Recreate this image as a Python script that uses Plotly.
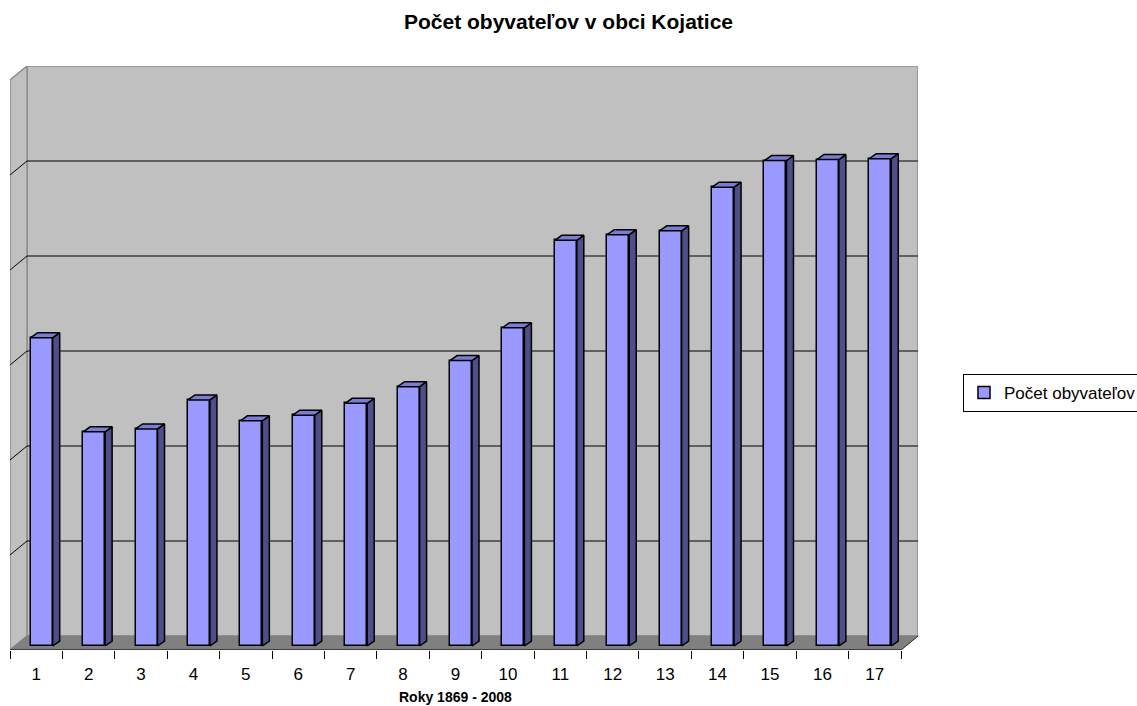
import plotly.graph_objects as go

# ---- data ----
categories = list(range(1, 18))
tick_labels = [str(c) for c in categories]
population = [649, 451, 457, 518, 474, 486, 511, 546, 601, 670,
              854, 866, 874, 966, 1022, 1024, 1026]
series_name = "Počet obyvateľov"
title_text = "Počet obyvateľov v obci Kojatice"
x_title = "Roky 1869 - 2008"
y_max = 1200
y_step = 200

# ---- geometry (pixel layout of the Excel-like 3D chart) ----
W, H = 1137, 706
PL, PR, PT, PB = 10, 918, 66, 650      # plot area in px
DEPTH_X_PX, DEPTH_Y_PX = 17, 14         # wall depth offset in px
n = len(categories)
kx = (PR - PL - DEPTH_X_PX) / n         # px per category unit
ky = (PB - PT - DEPTH_Y_PX) / y_max     # px per value unit
DXB = DEPTH_X_PX / kx
DYB = DEPTH_Y_PX / ky
x0, x1 = 0.5, n + 0.5

BAR_W = 22 / kx
BAR_OFF = -5.5 / kx
BAR_BASE = -10 / ky
SIDE_DX = 7 / kx
SIDE_DY = 5 / ky

FONT = "Liberation Sans, Arial, sans-serif"
FRONT = "#9999FF"
TOP = "#7C7CD4"
SIDE = "#4E4E88"

fig = go.Figure()

# side faces and top faces built from the data
sx, sy, tx, ty = [], [], [], []
for c, v in zip(categories, population):
    xl = c + BAR_OFF
    xr = xl + BAR_W
    top = BAR_BASE + v
    sx += [xr, xr + SIDE_DX, xr + SIDE_DX, xr, xr, None]
    sy += [BAR_BASE, BAR_BASE + SIDE_DY, top + SIDE_DY, top, BAR_BASE, None]
    tx += [xl, xr, xr + SIDE_DX, xl + SIDE_DX, xl, None]
    ty += [top, top, top + SIDE_DY, top + SIDE_DY, top, None]

fig.add_trace(go.Bar(
    x=categories, y=population, base=BAR_BASE, width=BAR_W, offset=BAR_OFF,
    name=series_name, marker=dict(color=FRONT, line=dict(color="black", width=1.5)),
    hoverinfo="skip", showlegend=True))
fig.add_trace(go.Scatter(x=sx, y=sy, mode="lines", fill="toself", fillcolor=SIDE,
                         line=dict(color="black", width=1.5), hoverinfo="skip",
                         showlegend=False))
fig.add_trace(go.Scatter(x=tx, y=ty, mode="lines", fill="toself", fillcolor=TOP,
                         line=dict(color="black", width=1.5), hoverinfo="skip",
                         showlegend=False))

shapes = []
# back wall
shapes.append(dict(type="rect", xref="x", yref="y", x0=x0 + DXB, x1=x1 + DXB, y0=0, y1=y_max,
                   fillcolor="#C0C0C0", line=dict(color="#8C8C8C", width=1.5), layer="below"))
# side wall
shapes.append(dict(type="path", xref="x", yref="y",
                   path=f"M {x0},{-DYB} L {x0 + DXB},0 L {x0 + DXB},{y_max} L {x0},{y_max - DYB} Z",
                   fillcolor="#C0C0C0", line=dict(color="#8C8C8C", width=1.5), layer="below"))
# floor
shapes.append(dict(type="path", xref="x", yref="y",
                   path=f"M {x0},{-DYB} L {x0 + DXB},0 L {x1 + DXB},0 L {x1},{-DYB} Z",
                   fillcolor="#808080", line=dict(color="#808080", width=1), layer="below"))
# gridlines
for g in range(y_step, y_max, y_step):
    shapes.append(dict(type="line", xref="x", yref="y", x0=x0 + DXB, x1=x1 + DXB, y0=g, y1=g,
                       line=dict(color="black", width=1), layer="below"))
    shapes.append(dict(type="line", xref="x", yref="y", x0=x0, x1=x0 + DXB, y0=g - DYB, y1=g,
                       line=dict(color="black", width=1), layer="below"))
# category axis line and floor edge
shapes.append(dict(type="line", xref="x", yref="y", x0=x0, x1=x1, y0=-DYB, y1=-DYB,
                   line=dict(color="black", width=1.2), layer="above"))
shapes.append(dict(type="line", xref="x", yref="y", x0=x1, x1=x1 + DXB, y0=-DYB, y1=0,
                   line=dict(color="#333333", width=1), layer="below"))

fig.update_layout(
    width=W, height=H, autosize=False,
    margin=dict(l=PL, r=W - PR, t=PT, b=H - PB, pad=0, autoexpand=False),
    paper_bgcolor="white", plot_bgcolor="white",
    shapes=shapes,
    title=dict(text=f"<b>{title_text}</b>", x=0.5, xref="container", xanchor="center",
               y=1 - 22 / H, yanchor="middle",
               font=dict(family=FONT, size=21, color="black")),
    xaxis=dict(range=[x0, x1 + DXB], tickvals=categories, ticktext=tick_labels,
               ticks="", showgrid=False, zeroline=False, showline=False,
               ticklabelstandoff=12,
               tickfont=dict(family=FONT, size=17, color="black"),
               minor=dict(tickvals=[c - 0.5 for c in categories] + [x1], ticks="outside",
                          ticklen=8, tickcolor="black", tickwidth=1, showgrid=False)),
    yaxis=dict(range=[-DYB, y_max], visible=False, showgrid=False, zeroline=False),
    showlegend=True,
    legend=dict(x=(963 - PL) / (PR - PL), xanchor="left", y=(PB - 393) / (PB - PT),
                yanchor="middle", bgcolor="white", bordercolor="black", borderwidth=1,
                font=dict(family=FONT, size=17, color="black")),
    annotations=[dict(text=f"<b>{x_title}</b>", xref="x", yref="paper",
                      x=(x0 + x1) / 2, y=(PB - 697) / (PB - PT), yanchor="middle",
                      showarrow=False, font=dict(family=FONT, size=14, color="black"))],
    bargap=0,
)

fig.write_html("out.html", config={"displayModeBar": False},
               post_script="document.body.style.margin='0';document.body.style.padding='0';")
